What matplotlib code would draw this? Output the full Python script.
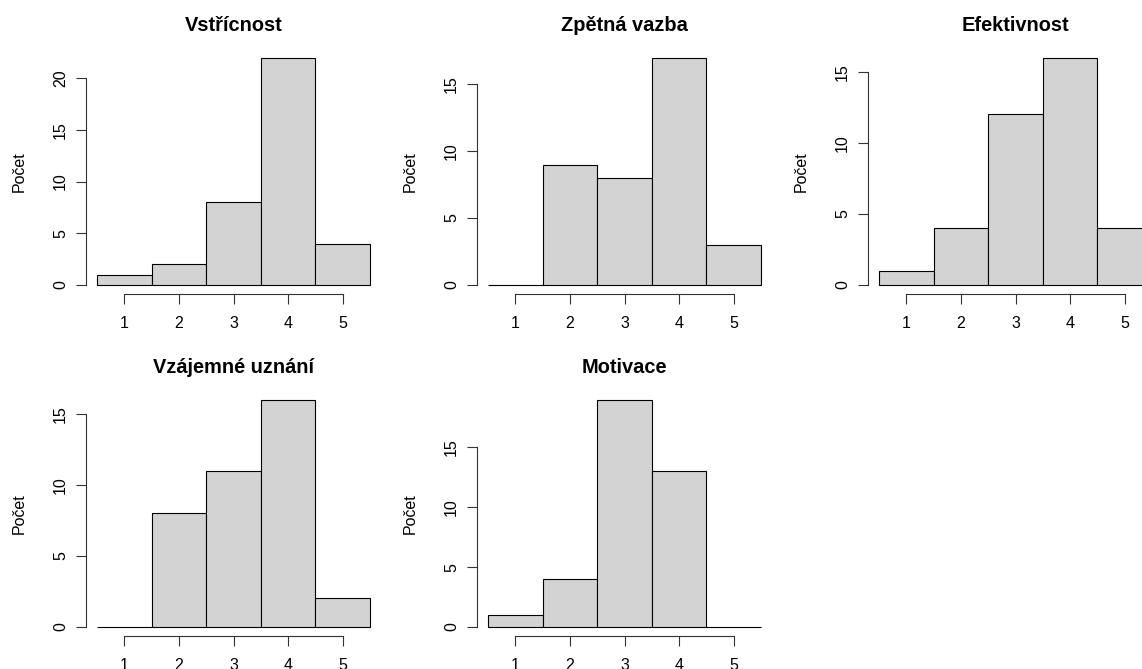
import matplotlib
matplotlib.use("Agg")
import matplotlib.pyplot as plt
import numpy as np

# Histogram counts for each rating item (scale 1-5)
scores = [1, 2, 3, 4, 5]
titles = ["Vstřícnost", "Zpětná vazba", "Efektivnost", "Vzájemné uznání", "Motivace"]
vstricnost = [1, 2, 8, 22, 4]
zpetna_vazba = [0, 9, 8, 17, 3]
efektivnost = [1, 4, 12, 16, 4]
vzajemne_uznani = [0, 8, 11, 16, 2]
motivace = [1, 4, 19, 13, 0]
ylabel = "Počet"

series = [vstricnost, zpetna_vazba, efektivnost, vzajemne_uznani, motivace]

plt.rcParams["font.family"] = ["Liberation Sans", "DejaVu Sans"]

W, H = 1142, 669
fig = plt.figure(figsize=(W / 100, H / 100), dpi=100)
fig.patch.set_facecolor("white")

# panel geometry in pixels (left, bottom) – 2 x 3 grid, last column runs off the page
lefts = [86, 477, 868]
bottoms = [375, 33]
pw, ph = 295, 245.5

for i, (title, counts) in enumerate(zip(titles, series)):
    r, c = divmod(i, 3)
    ax = fig.add_axes([lefts[c] / W, bottoms[r] / H, pw / W, ph / H])
    counts = np.array(counts)
    ax.bar(scores, counts, width=1.0, color="#D3D3D3", edgecolor="black",
           linewidth=0.8, align="center")
    top = counts.max()
    ax.set_xlim(0.3, 5.7)
    ax.set_ylim(-0.04 * top, 1.04 * top)

    yt = np.arange(0, top * 1.04 + 1e-9, 5)
    ax.set_yticks(yt)
    ax.set_yticklabels([str(int(v)) for v in yt], rotation=90, va="center")
    ax.set_xticks(scores)
    ax.set_xticklabels([str(s) for s in scores])

    for s in ["top", "right"]:
        ax.spines[s].set_visible(False)
    ax.spines["left"].set_bounds(0, yt[-1])
    ax.spines["bottom"].set_bounds(1, 5)
    for s in ["left", "bottom"]:
        ax.spines[s].set_linewidth(0.8)
        ax.spines[s].set_color("#333333")

    ax.tick_params(axis="both", direction="out", length=7, width=0.8,
                   color="#333333", labelsize=11.5)
    ax.tick_params(axis="x", pad=9)
    ax.tick_params(axis="y", pad=6)
    ax.set_facecolor("none")

    ax.annotate(title, xy=(0.5, 1.0), xycoords="axes fraction",
                xytext=(0, 23), textcoords="offset pixels",
                ha="center", va="center", fontsize=14.4, fontweight="bold")
    ax.annotate(ylabel, xy=(0.0, 0.5), xycoords="axes fraction",
                xytext=(-67, 0), textcoords="offset pixels",
                ha="center", va="center", rotation=90, fontsize=11.5)

fig.savefig("out.png", dpi=100, facecolor="white")
